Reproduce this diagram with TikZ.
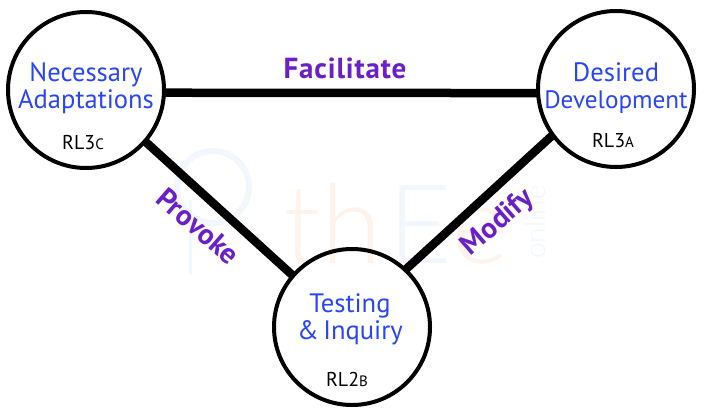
\documentclass[tikz,border=0pt]{standalone}
\usepackage{fontspec}
\setmainfont{PT Sans}
\newfontfamily\wmfont{Lato}[UprightFont=* Light]
\definecolor{nodeblue}{HTML}{2A45F5}
\definecolor{verb}{HTML}{6A1FC8}
\definecolor{wmblue}{HTML}{F2F6FD}
\definecolor{wmorange}{HTML}{FDF3EA}
\tikzset{
 x=1pt,y=-1pt,
 ring/.style={circle,draw=black,line width=4pt,minimum size=156pt,inner sep=0pt,outer sep=0pt,fill=none},
 link/.style={draw=black,line width=8.5pt},
 title/.style={text=nodeblue,font=\fontsize{26.6}{27}\selectfont,align=center,inner sep=0pt},
 code/.style={text=black,font=\fontsize{20}{22}\selectfont,inner sep=0pt},
 verblabel/.style={text=verb,font=\fontsize{29}{30}\selectfont\bfseries,inner sep=0pt},
 wmark/.style={font=\wmfont\fontsize{110}{110}\selectfont,inner sep=0pt,anchor=base},
}
\newcommand{\smallpart}[1]{{\fontsize{15}{16}\selectfont #1}}
\begin{document}
\begin{tikzpicture}
\useasboundingbox (0,0) rectangle (706,418);
\fill[white] (0,0) rectangle (706,418);
% watermark
\draw[wmblue,line width=6pt] (213,187) circle (36);
\draw[wmblue,line width=3pt] (190,200) -- (190,275);
\node[wmark,text=wmorange] (wmth) at (333,263) {th};
\node[wmark,text=wmblue] (wme) at (420,263) {E};
\node[wmark,text=wmorange] (wmo) at (480,263) {e};
\node[text=wmblue,font=\wmfont\fontsize{28}{28}\selectfont,inner sep=0pt,rotate=90] (wmonline) at (535,222) {online};
% circles
\node[ring] (nec) at (86,90) {};
\node[ring] (des) at (616,89) {};
\node[ring] (tes) at (352,327) {};
% connectors
\draw[link] (nec.-2.2) -- (des.183);
\draw[link] (nec.-41) -- (tes.139);
\draw[link] (des.216) -- (tes.47);
% text
\node[title] (necT) at (86,88) {Necessary\\Adaptations};
\node[title] (desT) at (616,88) {Desired\\{\fontsize{25.2}{27}\selectfont Development}};
\node[title] (tesT) at (350,319) {Testing\\\&\,Inquiry};
\node[code] (necC) at (83,143) {RL3\smallpart{C}};
\node[code] (desC) at (613,141) {RL3\smallpart{A}};
\node[code] (tesC) at (347,379) {RL2\smallpart{B}};
\node[verblabel] (fac) at (345,68) {\addfontfeature{LetterSpace=3}Facilitate};
\node[verblabel,rotate=-41] (pro) at (198,226) {Provoke};
\node[verblabel,rotate=41] (mod) at (498,223) {Modify};
\end{tikzpicture}
\end{document}
